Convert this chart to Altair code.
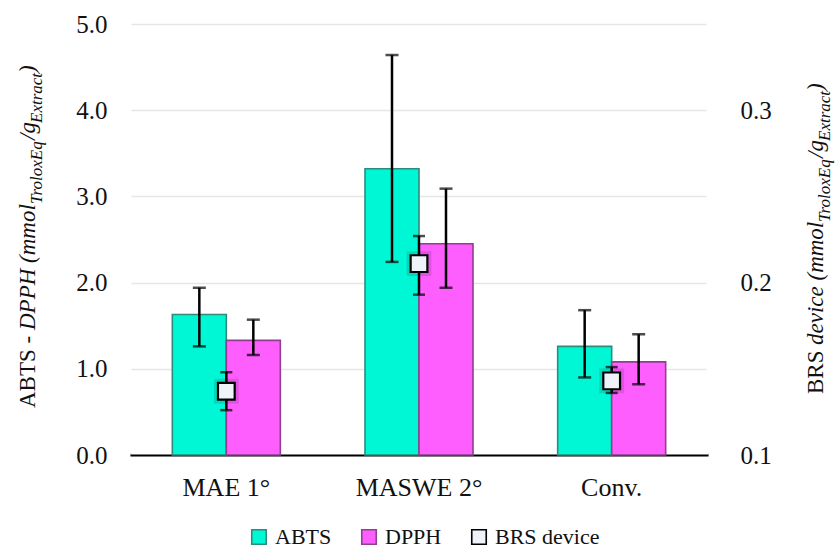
import altair as alt
import pandas as pd

# ---------------- data ----------------
categories = ["MAE 1°", "MASWE 2°", "Conv."]
abts = [1.63, 3.32, 1.26]
abts_lo = [1.26, 2.24, 0.90]
abts_hi = [1.94, 4.64, 1.68]
dpph = [1.33, 2.45, 1.08]
dpph_lo = [1.16, 1.94, 0.82]
dpph_hi = [1.57, 3.09, 1.40]
brs = [0.137, 0.211, 0.143]
brs_lo = [0.126, 0.193, 0.136]
brs_hi = [0.148, 0.227, 0.151]

series_names = ["ABTS", "DPPH", "BRS device"]
fills = ["#00F7D6", "#FF5EFF", "#EEF3F9"]
strokes = ["#2E8B7A", "#8E3F8E", "#000000"]

left_ticks = [0, 1, 2, 3, 4, 5]
right_ticks = [0.1, 0.2, 0.3]

FONT = "Liberation Serif"
TXT = "#111111"

rows = []
for i, c in enumerate(categories):
    rows.append({"cat": c, "series": "ABTS", "val": abts[i], "lo": abts_lo[i], "hi": abts_hi[i]})
    rows.append({"cat": c, "series": "DPPH", "val": dpph[i], "lo": dpph_lo[i], "hi": dpph_hi[i]})
bars_df = pd.DataFrame(rows)
brs_df = pd.DataFrame({"cat": categories, "series": ["BRS device"] * 3,
                       "val": brs, "lo": brs_lo, "hi": brs_hi})
one = pd.DataFrame({"a": [0]})

W, H = 578, 431

xenc = alt.X("cat:N", sort=categories,
             scale=alt.Scale(paddingInner=0.4395, paddingOuter=0.2197),
             axis=alt.Axis(title=None, labelAngle=0, labelFont=FONT, labelFontSize=26,
                           labelColor=TXT, ticks=False, domain=True, domainColor="#000000",
                           domainOpacity=1, domainWidth=2.2, labelPadding=19, grid=False))
xoff = alt.XOffset("series:N", scale=alt.Scale(domain=["ABTS", "DPPH"], paddingInner=0, paddingOuter=0))

legend = alt.Legend(title=None, orient="none", legendX=118, legendY=502, direction="horizontal",
                    symbolType="square", symbolSize=210, symbolStrokeWidth=1.6,
                    labelFont=FONT, labelFontSize=22, labelColor=TXT, labelOffset=5,
                    columnPadding=26)
fill_enc = alt.Fill("series:N", scale=alt.Scale(domain=series_names, range=fills), legend=legend)
stroke_enc = alt.Stroke("series:N", scale=alt.Scale(domain=series_names, range=strokes), legend=legend)

yleft_scale = alt.Scale(domain=[0, 5], nice=False, zero=True)
yleft_axis = alt.Axis(title=None, values=left_ticks, format=".1f", labelFont=FONT, labelFontSize=25,
                      labelColor=TXT, ticks=False, domain=False, grid=True,
                      gridColor="#E6E6E6", gridWidth=1.6, labelPadding=23)

base_b = alt.Chart(bars_df)
bars = base_b.mark_bar(strokeWidth=1.6).encode(
    x=xenc, xOffset=xoff,
    y=alt.Y("val:Q", scale=yleft_scale, axis=yleft_axis),
    fill=fill_enc, stroke=stroke_enc)
err_rule = base_b.mark_rule(color="black", strokeWidth=2.5).encode(
    x=xenc, xOffset=xoff, y=alt.Y("lo:Q", scale=yleft_scale, axis=yleft_axis), y2="hi:Q")
cap_lo = base_b.mark_tick(color="black", size=13, thickness=2.5).encode(
    x=xenc, xOffset=xoff, y=alt.Y("lo:Q", scale=yleft_scale, axis=yleft_axis))
cap_hi = base_b.mark_tick(color="black", size=13, thickness=2.5).encode(
    x=xenc, xOffset=xoff, y=alt.Y("hi:Q", scale=yleft_scale, axis=yleft_axis))

left_layer = alt.layer(bars, err_rule, cap_lo, cap_hi)

yright_scale = alt.Scale(domain=[0.1, 0.35], nice=False, zero=False)
yright_axis = alt.Axis(title=None, orient="right", values=right_ticks, format=".1f", labelFont=FONT,
                       labelFontSize=25, labelColor=TXT, ticks=False, domain=False,
                       grid=False, labelPadding=32)
base_r = alt.Chart(brs_df)
r_rule = base_r.mark_rule(color="black", strokeWidth=2.5).encode(
    x=xenc, y=alt.Y("lo:Q", scale=yright_scale, axis=yright_axis), y2="hi:Q")
r_cap_lo = base_r.mark_tick(color="black", size=12, thickness=2.5).encode(
    x=xenc, y=alt.Y("lo:Q", scale=yright_scale, axis=yright_axis))
r_cap_hi = base_r.mark_tick(color="black", size=12, thickness=2.5).encode(
    x=xenc, y=alt.Y("hi:Q", scale=yright_scale, axis=yright_axis))
r_shadow = base_r.mark_point(shape="square", size=620, filled=True, color="#000000", opacity=0.12).encode(
    x=xenc, y=alt.Y("val:Q", scale=yright_scale, axis=yright_axis))
r_pt = base_r.mark_point(shape="square", size=280, filled=True, strokeWidth=2.2, opacity=1).encode(
    x=xenc, y=alt.Y("val:Q", scale=yright_scale, axis=yright_axis), fill=fill_enc, stroke=stroke_enc)
right_layer = alt.layer(r_rule, r_cap_lo, r_cap_hi, r_shadow, r_pt)


def txt(s, x, y, size, italic):
    return alt.Chart(one).mark_text(
        text=s, angle=270, align="left", baseline="alphabetic", font=FONT, fontSize=size,
        fontStyle="italic" if italic else "normal", color=TXT).encode(
        x=alt.value(x), y=alt.value(y))


# left axis title pieces (with subscripts)
lt = [txt("ABTS -", -95, 384, 23, False),
      txt("DPPH (mmol", -95, 306, 23, True),
      txt("TroloxEq", -88, 180, 17, True),
      txt("/g", -95, 116, 23, True),
      txt("Extract", -88, 99, 17, True),
      txt(")", -95, 49, 23, True)]
# right axis title pieces
rt = [txt("BRS", 693, 370, 23, False),
      txt("device (mmol", 693, 321, 23, True),
      txt("TroloxEq", 700, 198, 17, True),
      txt("/g", 693, 134, 23, True),
      txt("Extract", 700, 117, 17, True),
      txt(")", 693, 67, 23, True)]

# white masks over the plot-edge frame lines (the reference has no frame)
mask_l = alt.Chart(one).mark_rule(color="white", strokeWidth=3).encode(
    x=alt.value(0), y=alt.value(-2), y2=alt.value(H - 2))
mask_r = alt.Chart(one).mark_rule(color="white", strokeWidth=3).encode(
    x=alt.value(W), y=alt.value(-2), y2=alt.value(H - 2))

chart = alt.layer(left_layer, right_layer, mask_l, mask_r, *lt, *rt).resolve_scale(
    y="independent").properties(
    width=W, height=H,
    autosize=alt.AutoSizeParams(type="none"),
    padding={"left": 130, "top": 24, "right": 130, "bottom": 93},
).configure_view(stroke="transparent", strokeWidth=0).configure_axisY(
    domain=False, ticks=False).configure(background="white")

chart.save("out.html", embed_options={"renderer": "svg", "actions": False})
